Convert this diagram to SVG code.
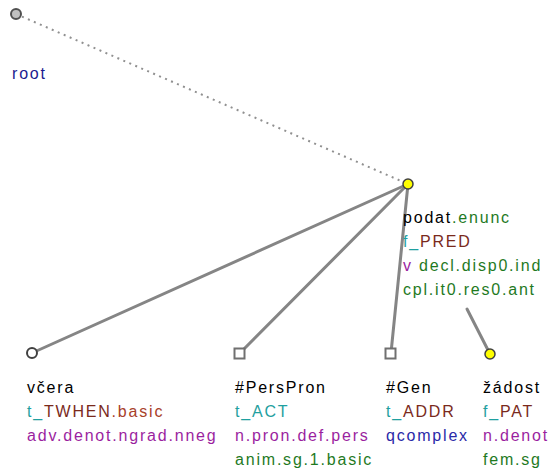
<svg xmlns="http://www.w3.org/2000/svg" width="551" height="473" viewBox="0 0 551 473">
<style>
text{font-family:"Liberation Sans",Arial,sans-serif;font-size:16px;letter-spacing:1.8px}
.k{fill:#000}.g{fill:#1f7a1f}.t{fill:#1fa0a0}.b{fill:#7a2a1c}.bl{fill:#a8402a}.p{fill:#9b1fa0}.db{fill:#1a1a8f}.q{fill:#2a2aa8}
.e{stroke:#858585;stroke-width:3;fill:none;stroke-linecap:round}
.d{stroke:#909090;stroke-width:2;stroke-dasharray:2 4.5;fill:none}
.sq{fill:#fff;stroke:#707070;stroke-width:2}
</style>
<rect width="551" height="473" fill="#fff"/>
<g id="connectors">
<line class="d" x1="16" y1="14" x2="408" y2="184"/>
<line class="e" x1="408" y1="184" x2="32" y2="353"/>
<line class="e" x1="408" y1="184" x2="240" y2="353"/>
<line class="e" x1="408" y1="184" x2="391" y2="353"/>
<line class="e" x1="467" y1="309" x2="490" y2="354"/>
</g>
<g id="root">
<circle cx="16" cy="14" r="5" fill="#c0c0c0" stroke="#505050" stroke-width="2"/>
<text x="12" y="79" class="db">root</text>
</g>
<g id="podat">
<circle cx="408" cy="184" r="5" fill="#ffff00" stroke="#404040" stroke-width="1.5"/>
<text x="403" y="223"><tspan class="k">podat</tspan><tspan class="g">.enunc</tspan></text>
<text x="403" y="247"><tspan class="t">f_</tspan><tspan class="b">PRED</tspan></text>
<text x="403" y="271"><tspan class="p">v</tspan><tspan class="g"> decl.disp0.ind</tspan></text>
<text x="403" y="295" class="g">cpl.it0.res0.ant</text>
</g>
<g id="vcera">
<circle cx="32" cy="353" r="5" fill="#fff" stroke="#404040" stroke-width="2"/>
<text x="27" y="393" class="k">včera</text>
<text x="27" y="417"><tspan class="t">t_</tspan><tspan class="b">TWHEN</tspan><tspan class="bl">.basic</tspan></text>
<text x="27" y="441" class="p">adv.denot.ngrad.nneg</text>
</g>
<g id="perspron">
<rect class="sq" x="234.5" y="348.5" width="10" height="10"/>
<text x="235" y="393" class="k">#PersPron</text>
<text x="235" y="417" class="t">t_ACT</text>
<text x="235" y="441" class="p">n.pron.def.pers</text>
<text x="235" y="465" class="g">anim.sg.1.basic</text>
</g>
<g id="gen">
<rect class="sq" x="385.5" y="348.5" width="10" height="10"/>
<text x="386" y="393" class="k">#Gen</text>
<text x="386" y="417"><tspan class="t">t_</tspan><tspan class="b">ADDR</tspan></text>
<text x="386" y="441" class="q">qcomplex</text>
</g>
<g id="zadost">
<circle cx="490" cy="354" r="5" fill="#ffff00" stroke="#404040" stroke-width="1.5"/>
<text x="483" y="393" class="k">žádost</text>
<text x="483" y="417"><tspan class="t">f_</tspan><tspan class="b">PAT</tspan></text>
<text x="483" y="441" class="p">n.denot</text>
<text x="483" y="465" class="g">fem.sg</text>
</g>
</svg>
